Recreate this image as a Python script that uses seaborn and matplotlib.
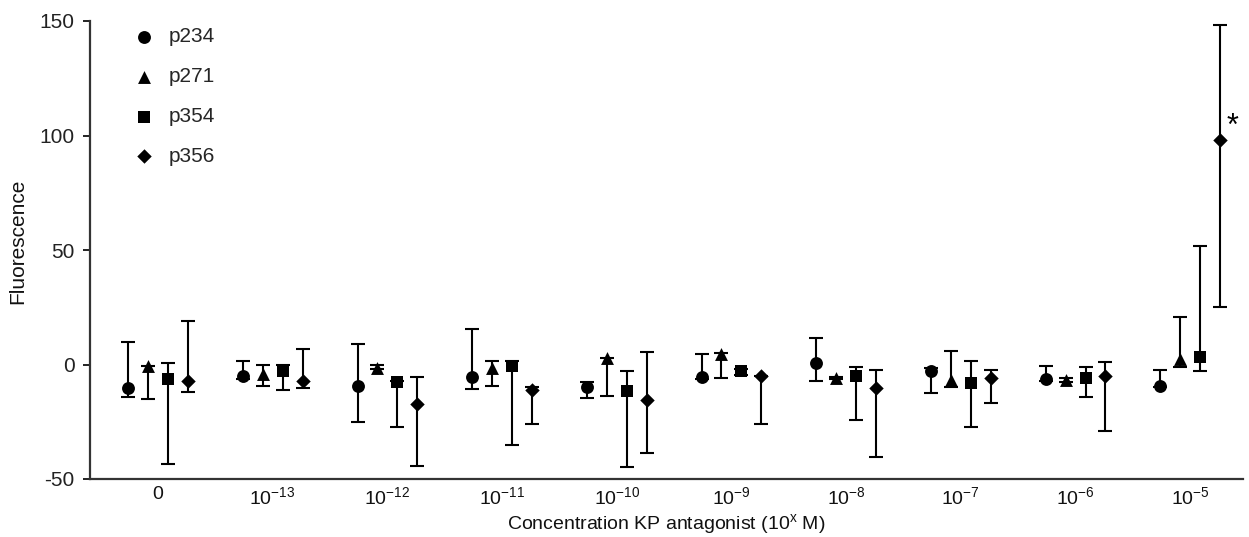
import numpy as np
import pandas as pd
import matplotlib
matplotlib.use("Agg")
import matplotlib.pyplot as plt
import seaborn as sns

# ---------------- data ----------------
categories = ["0", "10^-13", "10^-12", "10^-11", "10^-10",
              "10^-9", "10^-8", "10^-7", "10^-6", "10^-5"]
tick_labels = ["0"] + [r"$\mathregular{10^{-%d}}$" % k for k in (13, 12, 11, 10, 9, 8, 7, 6, 5)]
series = ["p234", "p271", "p354", "p356"]

p234_mean = [-10.3, -5.2, -9.4, -5.5, -9.7, -5.4, 0.6, -3.0, -6.4, -9.3]
p234_low = [-14.4, -6.5, -25.3, -10.5, -14.7, -6.5, -7.1, -12.6, -7.0, -10.0]
p234_high = [9.8, 1.5, 8.8, 15.4, -7.8, 4.6, 11.6, -1.5, -0.5, -2.4]

p271_mean = [-0.7, -4.2, -1.6, -1.6, 2.8, 4.6, -5.9, -6.8, -6.8, 2.4]
p271_low = [-15.1, -9.2, -2.0, -9.3, -13.7, -6.1, -6.5, -10.0, -7.5, -1.0]
p271_high = [-0.5, 0.0, 0.0, 1.6, 3.0, 5.0, -5.3, 5.9, -6.0, 20.9]

p354_mean = [-6.4, -3.0, -7.8, -0.8, -11.5, -3.0, -5.2, -8.1, -6.1, 3.1]
p354_low = [-43.3, -11.3, -27.1, -35.3, -44.6, -4.5, -24.2, -27.2, -14.4, -2.7]
p354_high = [0.8, 0.0, -7.0, 1.6, -2.7, -2.0, -1.1, 1.6, -1.3, 51.8]

p356_mean = [-7.1, -7.1, -17.3, -11.2, -15.4, -5.2, -10.3, -6.1, -4.9, 97.9]
p356_low = [-12.2, -10.3, -44.3, -26.2, -38.6, -26.1, -40.2, -17.0, -29.0, 25.3]
p356_high = [18.9, 6.7, -5.4, -10.0, 5.6, -5.0, -2.4, -2.4, 0.9, 148.2]

significance_label = "*"

# ---------------- style ----------------
sns.set_style("ticks")
plt.rcParams["font.family"] = ["Liberation Sans", "DejaVu Sans"]
plt.rcParams["axes.unicode_minus"] = False
plt.rcParams["mathtext.default"] = "regular"

means = {"p234": p234_mean, "p271": p271_mean, "p354": p354_mean, "p356": p356_mean}
lows = {"p234": p234_low, "p271": p271_low, "p354": p354_low, "p356": p356_low}
highs = {"p234": p234_high, "p271": p271_high, "p354": p354_high, "p356": p356_high}
markers = {"p234": "o", "p271": "^", "p354": "s", "p356": "D"}
msizes = {"p234": 86, "p271": 86, "p354": 66, "p356": 54}
dodge = {"p234": -0.26, "p271": -0.087, "p354": 0.087, "p356": 0.26}

fig = plt.figure(figsize=(12.49, 5.37), dpi=100)
ax = fig.add_axes([90 / 1249, 1 - 479 / 537, 1153 / 1249, 458 / 537])

idx = np.arange(len(categories))
for s in series:
    df = pd.DataFrame({"x": idx + dodge[s], "y": means[s]})
    m = np.array(means[s]); lo = np.array(lows[s]); hi = np.array(highs[s])
    yerr = np.vstack([np.clip(m - lo, 0, None), np.clip(hi - m, 0, None)])
    ax.errorbar(df["x"], df["y"], yerr=yerr, fmt="none", ecolor="black",
                elinewidth=1.5, capsize=4.8, capthick=1.5, zorder=2)
    sns.scatterplot(data=df, x="x", y="y", marker=markers[s], s=msizes[s],
                    color="black", edgecolor="black", linewidth=0, ax=ax,
                    label=s, zorder=3)

# significance star next to p356 at last category
last = len(categories) - 1
ax.text(last + dodge["p356"] + 0.11, p356_mean[last] + 6, significance_label,
        fontsize=22, ha="center", va="center", color="black")

ax.set_xlim(-0.593, 9.46)
ax.set_ylim(-50, 150)
ax.set_yticks([-50, 0, 50, 100, 150])
ax.set_xticks(idx)
ax.set_xticklabels(tick_labels)
ax.tick_params(axis="x", length=0, pad=5, labelsize=14, colors="#111111")
ax.tick_params(axis="y", length=5, width=1.4, pad=6, labelsize=15, colors="#222222")
for side in ("top", "right"):
    ax.spines[side].set_visible(False)
for side in ("left", "bottom"):
    ax.spines[side].set_linewidth(1.6)
    ax.spines[side].set_color("#333333")

ax.set_xlabel("Concentration KP antagonist (10$^{x}$ M)", fontsize=14, labelpad=3, color="#111111")
ax.set_ylabel("Fluorescence", fontsize=15, color="#111111")
ax.yaxis.set_label_coords(-0.0546, 0.52)

leg = ax.legend(loc="upper left", bbox_to_anchor=(0.0376, 0.986), frameon=False,
                borderpad=0, borderaxespad=0, handlelength=1.0, handletextpad=0.69,
                labelspacing=1.0, fontsize=15)

fig.savefig("out.png", dpi=100)
